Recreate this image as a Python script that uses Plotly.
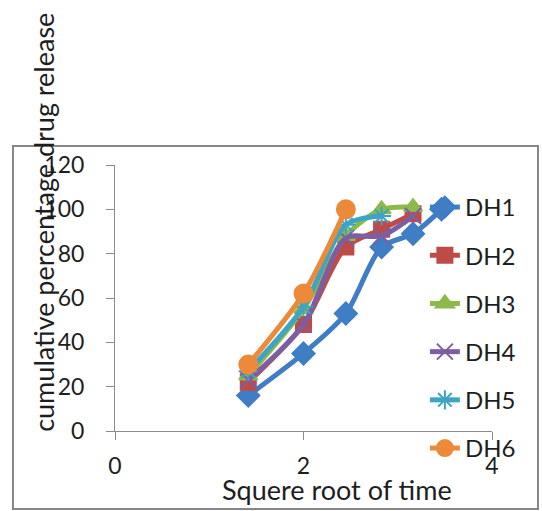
import numpy as np
import plotly.graph_objects as go

# time points (h) -> square root of time
time_h = [2, 4, 6, 8, 10, 12]
sqrt_t = [float(np.sqrt(t)) for t in time_h]

names = ["DH1", "DH2", "DH3", "DH4", "DH5", "DH6"]
dh1 = [16, 35, 53, 83, 89, 100]
dh2 = [22, 48, 83, 91, 98]
dh3 = [25, 55, 88, 100, 101]
dh4 = [23, 48, 87, 88, 97]
dh5 = [27, 56, 93, 97]
dh6 = [30, 62, 100]
series = [dh1, dh2, dh3, dh4, dh5, dh6]

colors = ["#3F7DC4", "#BE4B48", "#8DB84A", "#7E5EA2", "#3DA5C2", "#EC8A3A"]
symbols = ["diamond", "square", "triangle-up", "x-thin-open", "asterisk-open", "circle"]
sizes = [17, 15, 16, 16, 16, 18]

FONT = "Lato, Carlito, Calibri, sans-serif"
TXT = "#1E1E1E"

fig = go.Figure()
for i, (nm, ys) in enumerate(zip(names, series)):
    fig.add_trace(go.Scatter(
        x=sqrt_t[:len(ys)], y=ys, name=nm, mode="lines+markers",
        line=dict(color=colors[i], width=5, shape="spline", smoothing=0.8),
        marker=dict(symbol=symbols[i], size=sizes[i], color=colors[i],
                    line=dict(color=colors[i], width=2)),
        legendgroup=nm,
    ))

# outer chart frame
fig.add_shape(type="rect", xref="paper", yref="paper",
              x0=-0.2706, x1=1.122, y0=-0.293, y1=1.071,
              line=dict(color="#878787", width=2), fillcolor="rgba(0,0,0,0)",
              layer="below")

fig.add_annotation(text="cumulative percentage drug release", xref="paper", yref="paper",
                   x=-0.19, y=0.784, textangle=-90, showarrow=False,
                   xanchor="center", yanchor="middle",
                   font=dict(family=FONT, size=27, color=TXT))
fig.add_annotation(text="Squere root of time", xref="paper", yref="paper",
                   x=0.588, y=-0.22, showarrow=False,
                   xanchor="center", yanchor="middle",
                   font=dict(family=FONT, size=27, color=TXT))

axis_common = dict(showgrid=False, zeroline=False, showline=True, linecolor="#8C8C8C",
                   linewidth=1, ticks="outside", ticklen=8, tickcolor="#8C8C8C",
                   automargin=False,
                   tickfont=dict(family=FONT, size=23, color=TXT))
fig.update_xaxes(range=[0, 4], tickvals=[0, 2, 4], ticklabelstandoff=6, **axis_common)
fig.update_yaxes(range=[0, 120], tickvals=[0, 20, 40, 60, 80, 100, 120],
                 ticklabelstandoff=17, **axis_common)

legend = dict(x=0.822, y=0.925, xanchor="left", yanchor="top",
              bgcolor="rgba(0,0,0,0)", tracegroupgap=14,
              font=dict(family=FONT, size=24, color=TXT))

fig.update_layout(
    width=542, height=511,
    margin=dict(l=115, r=50, t=165, b=80, autoexpand=False),
    paper_bgcolor="white", plot_bgcolor="white",
    showlegend=True,
    legend=legend,
    font=dict(family=FONT),
)
try:
    fig.update_layout(legend_maxheight=400)
except Exception:
    pass

fig.write_html("out.html")
